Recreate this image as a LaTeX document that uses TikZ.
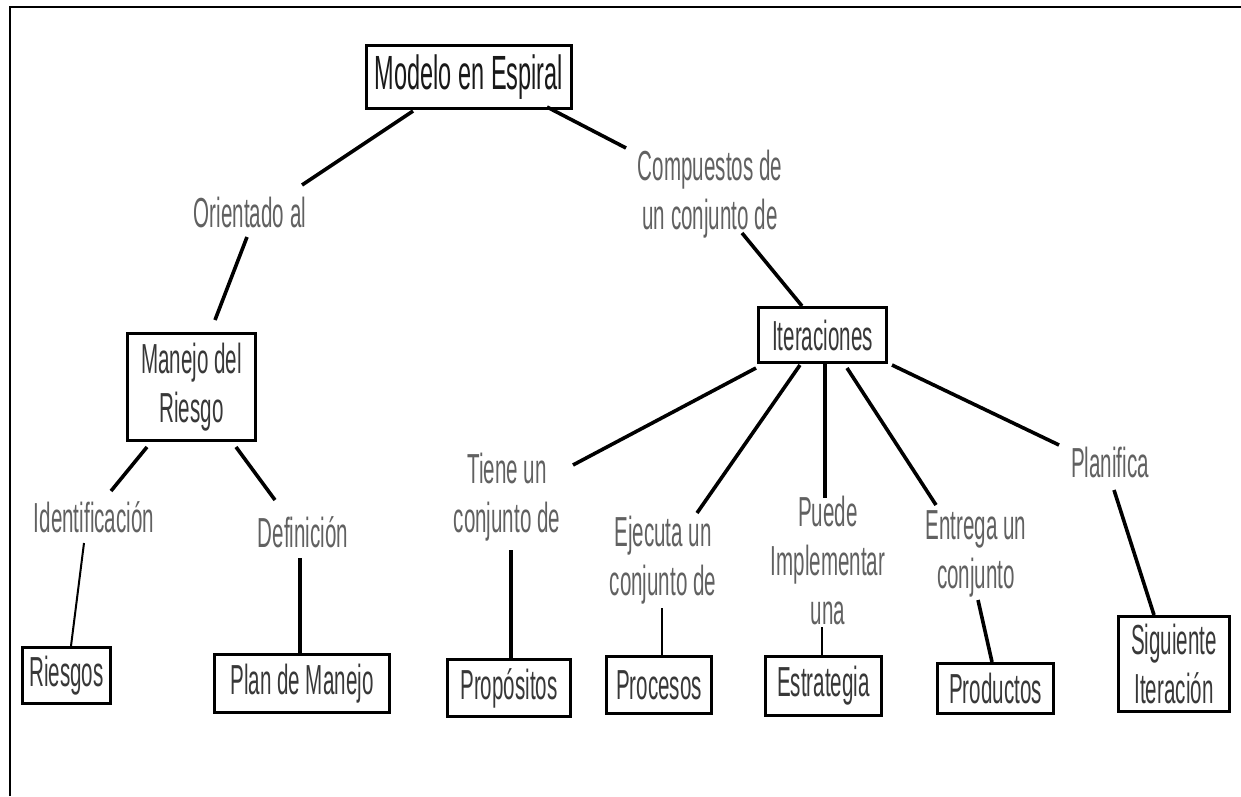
\documentclass[tikz,border=0pt]{standalone}
\usepackage{fontspec}
\setmainfont{Liberation Sans}[FakeStretch=0.49]
\usetikzlibrary{calc}

\begin{document}
\begin{tikzpicture}[x=1pt,y=-1pt,
  box/.style={draw=black, line width=3.2pt, fill=white, inner sep=0pt, align=center,
              text=black!78, font=\fontsize{42}{49}\selectfont},
  lbl/.style={inner sep=0pt, align=center, text=black!62, font=\fontsize{42}{49}\selectfont},
  conn/.style={line width=3.6pt, black},
  thin/.style={line width=2pt, black},
]
\useasboundingbox (0,0) rectangle (1241,796);

% page frame (top and left edges)
\draw[line width=2pt] (10,796) -- (10,7) -- (1241,7);

% concept boxes
\node[box, minimum width=205, minimum height=63, text=black!90,
      font=\fontsize{48}{56}\selectfont] (modelo) at (469,77) {Modelo en Espiral};
\node[box, minimum width=128, minimum height=107] (manejo) at (191.5,387) {Manejo del\\Riesgo};
\node[box, minimum width=128, minimum height=55] (iter) at (822.5,335) {Iteraciones};
\node[box, minimum width=88, minimum height=56] (riesgos) at (66.5,675.5) {Riesgos};
\node[box, minimum width=175, minimum height=58] (plan) at (302,683.5) {Plan de Manejo};
\node[box, minimum width=123, minimum height=57] (prop) at (509,688) {Propósitos};
\node[box, minimum width=105, minimum height=57] (proc) at (659,685) {Procesos};
\node[box, minimum width=116, minimum height=59] (estr) at (823.5,686) {Estrategia};
\node[box, minimum width=116, minimum height=50] (prod) at (995.5,688.5) {Productos};
\node[box, minimum width=111, minimum height=95] (sig) at (1174,664) {Siguiente\\Iteración};

% linking phrases
\node[lbl] (ori) at (250,212) {Orientado al};
\node[lbl] (comp) at (710,194) {Compuestos de\\un conjunto de};
\node[lbl] (ident) at (94,517) {Identificación};
\node[lbl] (defi) at (303,532) {Definición};
\node[lbl] (tiene) at (507,497) {Tiene un\\conjunto de};
\node[lbl] (ejec) at (663,560) {Ejecuta un\\conjunto de};
\node[lbl] (puede) at (828,560) {Puede\\Implementar\\una};
\node[lbl] (entr) at (976,554) {Entrega un\\conjunto};
\node[lbl] (planif) at (1110,462) {Planifica};

% connectors
\draw[conn] ($(modelo)+(-56,34)$) -- ($(ori)+(52,-27)$);
\draw[conn] ($(ori)+(-3,25)$) -- ($(manejo)+(23.5,-67)$);
\draw[conn] ($(manejo)+(-44.5,60)$) -- ($(ident)+(17,-26)$);
\draw[conn] ($(manejo)+(44.5,60)$) -- ($(defi)+(-28,-32)$);
\draw[thin] ($(ident)+(-10,26)$) -- ($(riesgos)+(4.5,-29.5)$);
\draw[conn, line width=4.2pt] ($(defi)+(-3,26)$) -- ($(plan)+(-2,-30.5)$);
\draw[conn] ($(modelo)+(78,30)$) -- ($(comp)+(-84,-46)$);
\draw[conn] ($(comp)+(32,39)$) -- ($(iter)+(-20.5,-29)$);
\draw[conn] ($(iter)+(-66.5,33)$) -- ($(tiene)+(66,-32)$);
\draw[conn] ($(iter)+(-22.5,30)$) -- ($(ejec)+(34,-47)$);
\draw[conn, line width=4.2pt] ($(iter)+(2.5,29)$) -- ($(puede)+(-3,-62)$);
\draw[conn] ($(iter)+(24.5,33)$) -- ($(entr)+(-40,-49)$);
\draw[conn] ($(iter)+(69.5,30)$) -- ($(planif)+(-51,-17)$);
\draw[conn, line width=4.2pt] ($(tiene)+(4,53)$) -- ($(prop)+(2,-30)$);
\draw[thin, line width=1.5pt] ($(ejec)+(-1,48)$) -- ($(proc)+(3,-30)$);
\draw[thin] ($(puede)+(-6,67)$) -- ($(estr)+(-1.5,-31)$);
\draw[conn] ($(entr)+(2,46)$) -- ($(prod)+(-3.5,-26.5)$);
\draw[conn] ($(planif)+(4,28)$) -- ($(sig)+(-20,-49)$);
\end{tikzpicture}
\end{document}
